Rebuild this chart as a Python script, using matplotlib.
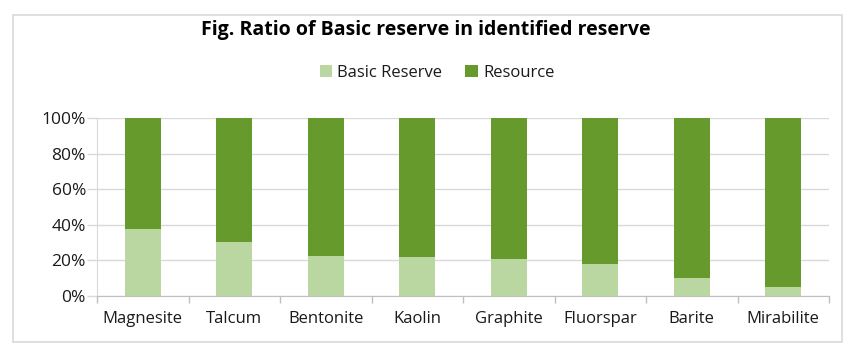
import matplotlib.pyplot as plt
from matplotlib.patches import Rectangle
import numpy as np

# Data (percent of identified reserve)
categories = ['Magnesite', 'Talcum', 'Bentonite', 'Kaolin', 'Graphite', 'Fluorspar', 'Barite', 'Mirabilite']
basic_reserve = [37.5, 30.5, 22.3, 21.9, 21.0, 18.2, 10.1, 4.9]
resource = [100 - v for v in basic_reserve]
y_ticks = [0, 20, 40, 60, 80, 100]

c_basic = '#bad6a1'
c_res = '#669a2d'
grid_c = '#d9d9d9'

plt.rcParams['font.family'] = ['Open Sans', 'DejaVu Sans']

W, H = 859, 356
fig = plt.figure(figsize=(W / 100, H / 100), dpi=100)

# chart border
fig.patches.append(Rectangle((13 / W, 1 - 342 / H), (842 - 13) / W, (342 - 15) / H,
                             transform=fig.transFigure, fill=False, edgecolor=grid_c, lw=1.2))

ax = fig.add_axes([97 / W, 1 - 296 / H, (829 - 97) / W, 178 / H])
x = np.arange(len(categories))
ax.bar(x, basic_reserve, width=0.39, color=c_basic, label='Basic Reserve', zorder=3)
ax.bar(x, resource, width=0.39, bottom=basic_reserve, color=c_res, label='Resource', zorder=3)

ax.set_xlim(-0.5, len(categories) - 0.5)
ax.set_ylim(0, 100)
ax.set_yticks(y_ticks)
ax.set_yticklabels([f'{v}%' for v in y_ticks], fontsize=12.5, color='#1a1a1a')
ax.set_xticks(x)
ax.set_xticklabels(categories, fontsize=12, color='#1a1a1a')
ax.set_xticks(np.arange(-0.5, len(categories)), minor=True)
ax.tick_params(axis='x', which='major', length=0, pad=11)
ax.tick_params(axis='x', which='minor', length=5, color='#bfbfbf', width=1)
ax.tick_params(axis='y', length=7, color=grid_c, width=1, pad=1)
ax.yaxis.grid(True, color=grid_c, lw=1, zorder=0)
for s in ['top', 'right']:
    ax.spines[s].set_visible(False)
ax.spines['left'].set_color(grid_c)
ax.spines['bottom'].set_color('#bfbfbf')

fig.text(426 / W, 1 - 30 / H, 'Fig. Ratio of Basic reserve in identified reserve',
         ha='center', va='center', fontsize=14, fontweight='bold', color='#000000')
fig.legend(loc='center', bbox_to_anchor=(437 / W, 1 - 73 / H), ncol=2, frameon=False,
           fontsize=12, handlelength=0.75, handleheight=0.75, handletextpad=0.3,
           columnspacing=1.4, labelcolor='#1a1a1a')

fig.savefig('out.png', dpi=100)
